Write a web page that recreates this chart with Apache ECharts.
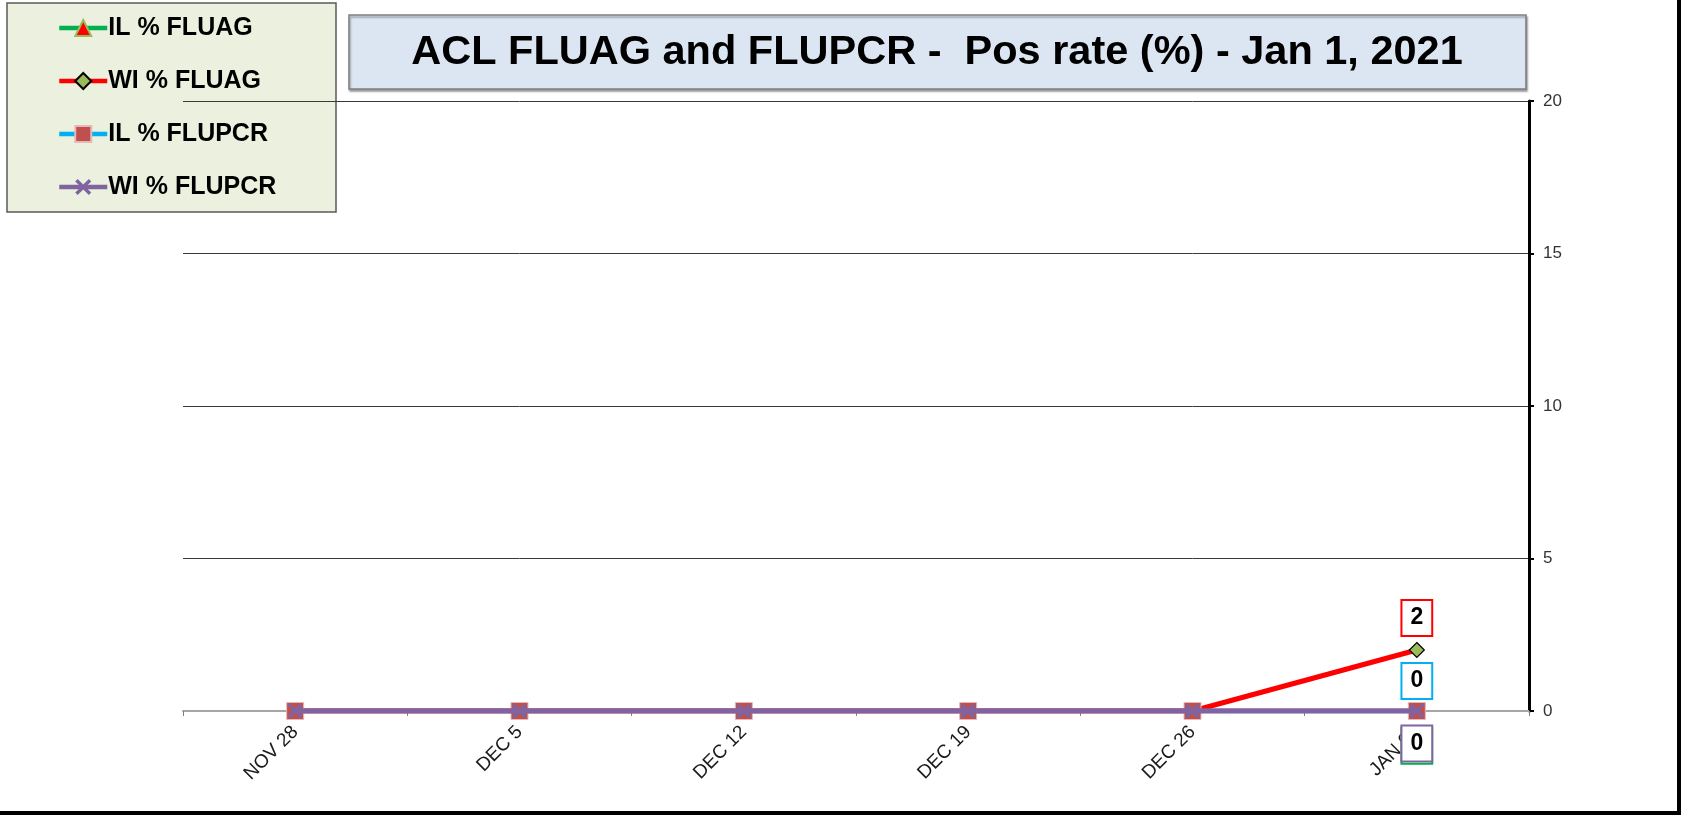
<!DOCTYPE html>
<html>
<head>
<meta charset="utf-8">
<script src="https://cdn.jsdelivr.net/npm/echarts@6/dist/echarts.min.js"></script>
<style>
html,body{margin:0;padding:0;background:#fff;}
#chart{width:1681px;height:815px;}
</style>
</head>
<body>
<div id="chart"></div>
<script>
const categories = ['NOV 28', 'DEC 5', 'DEC 12', 'DEC 19', 'DEC 26', 'JAN 01'];
const ilFluag = [0, 0, 0, 0, 0, 0];
const wiFluag = [0, 0, 0, 0, 0, 2];
const ilFlupcr = [0, 0, 0, 0, 0, 0];
const wiFlupcr = [0, 0, 0, 0, 0, 0];
const yTicks = [0, 5, 10, 15, 20];
const titleText = 'ACL FLUAG and FLUPCR -  Pos rate (%) - Jan 1, 2021';

const FONT = '"Liberation Sans", Arial, sans-serif';
const X_PATH = 'path://M0,1.5 L1.5,0 L5,3.5 L8.5,0 L10,1.5 L6.5,5 L10,8.5 L8.5,10 L5,6.5 L1.5,10 L0,8.5 L3.5,5 Z';

function withLastLabel(values, labelOpt) {
  return values.map((v, i) => i === values.length - 1
    ? { value: v, label: Object.assign({
        show: true, color: '#000', fontFamily: FONT, fontSize: 23, fontWeight: 'bold',
        backgroundColor: '#fff', borderWidth: 2, padding: [6, 8], lineHeight: 22
      }, labelOpt) }
    : v);
}

const chart = echarts.init(document.getElementById('chart'), null, { renderer: 'canvas' });
const option = {
  backgroundColor: '#fff',
  animation: false,
  title: {
    text: titleText,
    left: 937,
    top: 32,
    padding: 0,
    textAlign: 'center',
    textStyle: { fontFamily: FONT, fontSize: 41.5, fontWeight: 'bold', color: '#000' }
  },
  legend: {
    orient: 'vertical',
    left: 57,
    top: 15,
    padding: 0,
    itemWidth: 48,
    itemHeight: 20,
    itemGap: 27,
    lineStyle: { width: 4.5 },
    textStyle: { fontFamily: FONT, fontSize: 25, fontWeight: 'bold', color: '#000', lineHeight: 26, padding: [0, 0, 0, -4] },
    data: ['IL % FLUAG', 'WI % FLUAG', 'IL % FLUPCR', 'WI % FLUPCR']
  },
  grid: { left: 183, right: 152, top: 101, bottom: 104, containLabel: false },
  xAxis: {
    type: 'category',
    data: categories,
    boundaryGap: true,
    axisLine: { show: true, lineStyle: { color: '#A6A6A6', width: 2 } },
    axisTick: { show: true, interval: 0, length: 5, lineStyle: { color: '#808080', width: 1 } },
    axisLabel: { interval: 0, rotate: 45, margin: 18, fontFamily: FONT, fontSize: 19, color: '#1a1a1a' },
    splitLine: { show: false }
  },
  yAxis: {
    type: 'value',
    position: 'right',
    min: yTicks[0],
    max: yTicks[yTicks.length - 1],
    interval: 5,
    axisLine: { show: true, onZero: false, lineStyle: { color: '#000', width: 3 } },
    axisTick: { show: true, length: 5, lineStyle: { color: '#000', width: 2 } },
    axisLabel: { margin: 14, fontFamily: FONT, fontSize: 17, color: '#333' },
    splitLine: { show: true, lineStyle: { color: '#3a3a3a', width: 1 } }
  },
  graphic: [
    { type: 'rect', z: -1, shape: { x: 7, y: 3, width: 329, height: 209 },
      style: { fill: '#EBF1DE', stroke: '#595959', lineWidth: 1.5 } },
    { type: 'rect', z: -1, shape: { x: 349, y: 15, width: 1177, height: 74 },
      style: { fill: '#DCE6F2', stroke: '#7F7F7F', lineWidth: 1.5, shadowColor: 'rgba(0,0,0,0.35)', shadowOffsetX: 1, shadowOffsetY: 2, shadowBlur: 2 } },
    { type: 'rect', z: 100, shape: { x: 1677, y: 0, width: 4, height: 815 }, style: { fill: '#000' } },
    { type: 'rect', z: 100, shape: { x: 0, y: 811, width: 1681, height: 4 }, style: { fill: '#000' } }
  ],
  series: [
    {
      name: 'IL % FLUAG', type: 'line',
      data: withLastLabel(ilFluag, { position: 'bottom', distance: 10, borderColor: '#00B050' }),
      symbol: 'triangle', symbolSize: 14,
      lineStyle: { color: '#00B050', width: 4 },
      itemStyle: { color: '#FF0000', borderColor: '#9BBB59', borderWidth: 1.5 },
      z: 2
    },
    {
      name: 'WI % FLUAG', type: 'line',
      data: withLastLabel(wiFluag, { position: 'top', distance: 7, borderColor: '#FF0000' }),
      symbol: 'diamond', symbolSize: 15,
      lineStyle: { color: '#FF0000', width: 5 },
      itemStyle: { color: '#9BBB59', borderColor: '#000', borderWidth: 1.2 },
      z: 3
    },
    {
      name: 'IL % FLUPCR', type: 'line',
      data: withLastLabel(ilFlupcr, { position: 'top', distance: 4, borderColor: '#00B0F0' }),
      symbol: 'rect', symbolSize: 17,
      lineStyle: { color: '#00B0F0', width: 4 },
      itemStyle: { color: '#C0504D', borderColor: '#E6B9B8', borderWidth: 1 },
      z: 4
    },
    {
      name: 'WI % FLUPCR', type: 'line',
      data: withLastLabel(wiFlupcr, { position: 'bottom', distance: 8, borderColor: '#8064A2' }),
      symbol: X_PATH, symbolSize: 15,
      lineStyle: { color: '#8064A2', width: 5.5 },
      itemStyle: { color: '#8064A2' },
      z: 5
    }
  ]
};
chart.setOption(option);
</script>
</body>
</html>
